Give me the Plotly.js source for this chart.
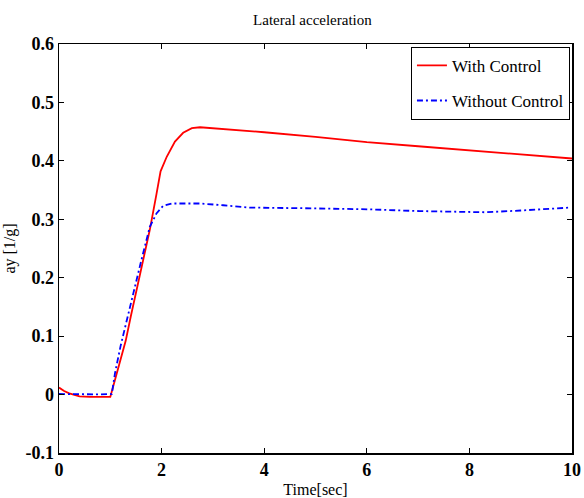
<!DOCTYPE html>
<html>
<head>
<meta charset="utf-8">
<script src="https://cdn.plot.ly/plotly-3.0.1.min.js"></script>
<style>html,body{margin:0;padding:0;background:#fff;}#chart{width:584px;height:498px;}</style>
</head>
<body>
<div id="chart"></div>
<script>
// Time [sec] and lateral acceleration ay [1/g]
const tWith = [0, 0.1, 0.2, 0.3, 0.4, 0.6, 0.8, 1.0, 1.1, 1.22, 1.3, 1.4, 1.51, 1.6, 1.7, 1.77, 1.9, 1.98, 2.1, 2.26, 2.42, 2.59, 2.75, 3.0, 3.5, 4, 5, 6, 7, 8, 9, 10];
const ayWith = [0.012, 0.006, 0.002, -0.001, -0.003, -0.004, -0.004, -0.004, 0.028, 0.065, 0.092, 0.134, 0.179, 0.215, 0.256, 0.282, 0.343, 0.382, 0.407, 0.433, 0.448, 0.456, 0.4575, 0.456, 0.4525, 0.449, 0.441, 0.432, 0.425, 0.418, 0.411, 0.404];

const tWithout = [0, 0.2, 0.4, 0.6, 0.8, 1.03, 1.09, 1.2, 1.3, 1.4, 1.51, 1.6, 1.77, 1.9, 2.03, 2.2, 2.5, 2.75, 3.2, 3.72, 4.7, 5.5, 6.06, 7.03, 8.0, 8.33, 9.0, 9.5, 9.96];
const ayWithout = [0.001, 0.0005, 0.0003, 0.0003, 0.0003, 0.001, 0.036, 0.083, 0.12, 0.158, 0.196, 0.228, 0.287, 0.31, 0.323, 0.327, 0.327, 0.327, 0.324, 0.320, 0.319, 0.318, 0.317, 0.314, 0.312, 0.312, 0.315, 0.317, 0.320];

const seriesNames = ["With Control", "Without Control"];
const xTicks = [0, 2, 4, 6, 8, 10];
const yTicks = [-0.1, 0, 0.1, 0.2, 0.3, 0.4, 0.5, 0.6];
const yTickText = ["-0.1", "0", "0.1", "0.2", "0.3", "0.4", "0.5", "0.6"];

const serif = "'Liberation Serif', serif";

const traces = [
  {x: tWith, y: ayWith, name: seriesNames[0], mode: "lines", legendgroup: "a",
   line: {color: "#ff0000", width: 1.8}},
  {x: tWithout, y: ayWithout, name: seriesNames[1], mode: "lines", legendgroup: "b",
   line: {color: "#0000ff", width: 1.8, dash: "6px,3px,2px,3px"}}
];

const axisCommon = {
  showline: true, linecolor: "#000", linewidth: 1.5, mirror: "ticks",
  ticks: "inside", ticklen: 5, tickwidth: 1, tickcolor: "#000",
  showgrid: false, zeroline: false,
  tickfont: {family: serif, size: 18, color: "#000", weight: "bold"}
};

const layout = {
  width: 584, height: 498,
  margin: {l: 59, r: 12, t: 44, b: 45},
  paper_bgcolor: "#fff", plot_bgcolor: "#fff",
  font: {family: serif},
  title: {text: "Lateral acceleration", font: {family: serif, size: 15, color: "#000"},
          x: 0.535, xanchor: "center", y: 0.96, yanchor: "middle"},
  xaxis: Object.assign({}, axisCommon, {
    range: [0, 10], tickvals: xTicks, ticktext: xTicks.map(String),
    title: {text: "Time[sec]", font: {family: serif, size: 16, color: "#000"}, standoff: 4}
  }),
  yaxis: Object.assign({}, axisCommon, {
    range: [-0.1, 0.6], tickvals: yTicks, ticktext: yTickText,
    title: {text: "ay [1/g]", font: {family: serif, size: 16, color: "#000"}, standoff: 6}
  }),
  showlegend: true,
  legend: {
    x: 0.996, xanchor: "right", y: 0.993, yanchor: "top",
    bordercolor: "#000", borderwidth: 1, bgcolor: "#fff",
    font: {family: serif, size: 17, color: "#000"},
    traceorder: "grouped", tracegroupgap: 10, itemwidth: 30
  }
};

Plotly.newPlot("chart", traces, layout, {displayModeBar: false, staticPlot: true});
</script>
</body>
</html>
